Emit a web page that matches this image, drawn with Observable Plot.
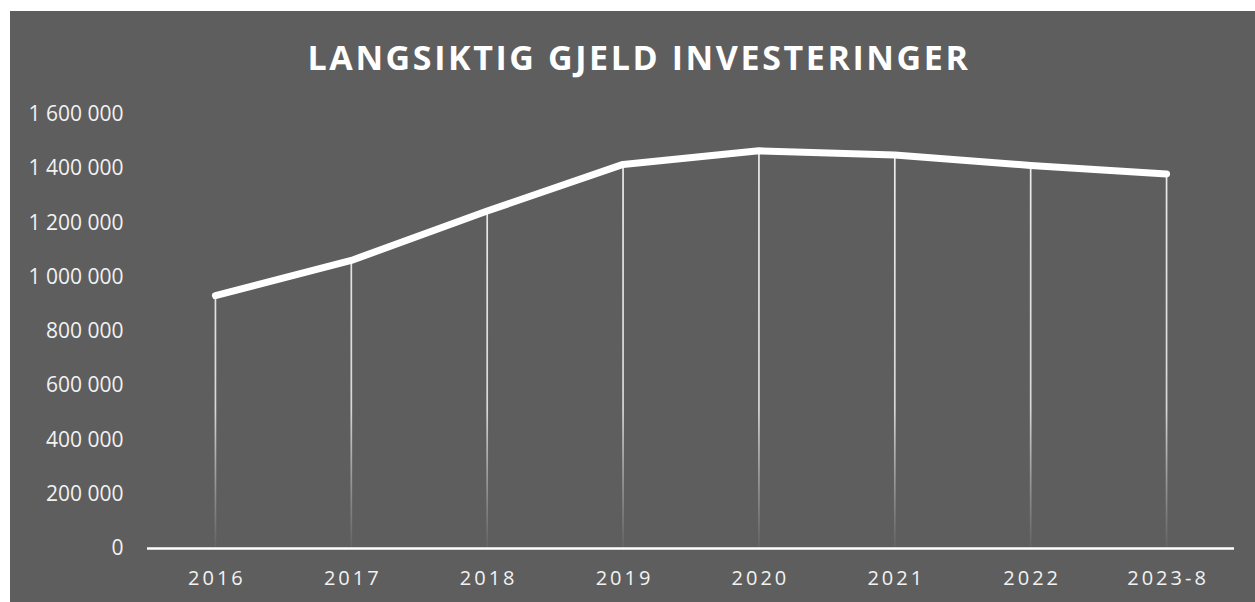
<!DOCTYPE html>
<html>
<head>
<meta charset="utf-8">
<script src="https://cdn.jsdelivr.net/npm/d3@7"></script>
<script src="https://cdn.jsdelivr.net/npm/@observablehq/plot@0.6"></script>
<style>
  html, body { margin: 0; padding: 0; background: #ffffff; }
  #wrap {
    position: absolute; left: 10px; top: 11px; width: 1245px; height: 591px;
    background: #5e5e5e; overflow: hidden;
  }
  #title {
    height: 84px; box-sizing: border-box; padding-top: 24px; padding-left: 13px;
    text-align: center; color: #ffffff;
    font-family: "Open Sans", sans-serif; font-weight: 700; font-size: 34px;
    letter-spacing: 2.6px; line-height: 44px;
  }
  #chart svg { display: block; }
</style>
</head>
<body>
<div id="wrap">
  <div id="title">LANGSIKTIG GJELD INVESTERINGER</div>
  <div id="chart"></div>
</div>
<script>
const years = ["2016", "2017", "2018", "2019", "2020", "2021", "2022", "2023-8"];
const values = [932000, 1062000, 1244000, 1416000, 1466000, 1451000, 1412000, 1381000];
const yTicks = [0, 200000, 400000, 600000, 800000, 1000000, 1200000, 1400000, 1600000];

const data = years.map((y, i) => ({year: y, value: values[i]}));
const fmt = v => d3.format(",")(v).replace(/,/g, " ");

const plot = Plot.plot({
  width: 1245,
  height: 507,
  marginTop: 19,
  marginBottom: 54,
  marginLeft: 137,
  marginRight: 21,
  style: {background: "transparent", color: "#f2f2f2", fontFamily: "Open Sans, sans-serif", fontSize: "21px"},
  x: {type: "point", domain: years, padding: 0.5, round: false, label: null},
  y: {domain: [0, 1600000], label: null},
  marks: [
    Plot.axisY({ticks: yTicks, tickFormat: fmt, tickSize: 0, tickPadding: 24, fontSize: 21, fill: "#f2f2f2"}),
    Plot.axisX({tickSize: 0, tickPadding: 22, fontSize: 20, fill: "#f2f2f2"}),
    Plot.ruleX(data, {x: "year", y1: 0, y2: "value", stroke: "url(#fade)", strokeWidth: 1.7}),
    Plot.ruleY([0], {stroke: "#ffffff", strokeWidth: 2.5}),
    Plot.line(data, {x: "year", y: "value", stroke: "#ffffff", strokeWidth: 7, strokeLinecap: "round", strokeLinejoin: "round"})
  ]
});

// gradient for the drop lines
const svg = d3.select(plot);
const defs = svg.insert("defs", ":first-child");
const g = defs.append("linearGradient").attr("id", "fade")
  .attr("gradientUnits", "userSpaceOnUse")
  .attr("x1", 0).attr("x2", 0).attr("y1", 55).attr("y2", 453);
g.append("stop").attr("offset", "0%").attr("stop-color", "#ececec").attr("stop-opacity", 1);
g.append("stop").attr("offset", "65%").attr("stop-color", "#e6e6e6").attr("stop-opacity", 0.9);
g.append("stop").attr("offset", "100%").attr("stop-color", "#d0d0d0").attr("stop-opacity", 0.05);

// letter spacing for x labels
svg.selectAll("[aria-label='x-axis tick label'] text").style("letter-spacing", "3px").attr("dx", "1.5px");

document.getElementById("chart").appendChild(plot);
</script>
</body>
</html>
